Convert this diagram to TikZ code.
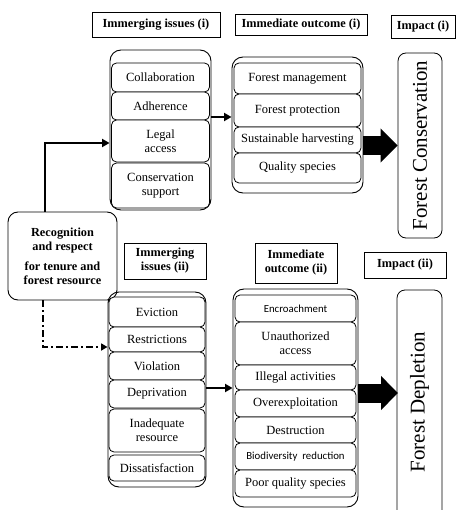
\documentclass[tikz,border=0pt]{standalone}
\usepackage{fontspec}
\setmainfont{Liberation Serif}[BoldFont={Liberation Serif Bold}]
\newfontfamily\calib{Carlito}
\usetikzlibrary{arrows.meta}
\begin{document}
\begin{tikzpicture}[x=1pt,y=-1pt,
 base/.style={font=\fontsize{12.5}{14}\selectfont, align=center, inner sep=0pt},
 hdr/.style={base, draw, line width=0.8pt, font=\fontsize{12.3}{14}\selectfont\bfseries},
 outer/.style={draw, line width=0.9pt, rounded corners=11pt, inner sep=0pt},
 row/.style={base, draw, line width=0.8pt, rounded corners=5pt, fill=white},
 rowA/.style={row, minimum width=98pt},
 rowB/.style={row, minimum width=127pt},
 rowC/.style={row, minimum width=96pt},
 rowD/.style={row, minimum width=121pt},
 sans/.style={font=\calib\fontsize{10.8}{12}\selectfont},
 conn/.style={line width=2.2pt, -{Triangle[length=7.5pt,width=8pt]}},
 big/.style={line width=19pt, -{Triangle[length=17pt,width=33pt]}},
 impact/.style={draw, line width=0.8pt, rounded corners=8pt, font=\fontsize{21}{22}\selectfont, inner sep=0pt}
]
\useasboundingbox (0,0) rectangle (459,510);

% headers
\node[hdr, minimum width=128pt, minimum height=25pt] (h1) at (156,24.5) {Immerging issues (i)};
\node[hdr, minimum width=132pt, minimum height=21pt] (h2) at (301,24.5) {Immediate outcome (i)};
\node[hdr, minimum width=64pt, minimum height=23pt] (h3) at (423,26.5) {Impact (i)};
\node[hdr, minimum width=82pt, minimum height=36pt] (h4) at (165,261) {Immerging\\issues (ii)};
\node[hdr, minimum width=82pt, minimum height=40pt] (h5) at (296,263) {Immediate\\outcome (ii)};
\node[hdr, minimum width=82pt, minimum height=26pt] (h6) at (405,265) {Impact (ii)};

% issues (i)
\node[outer, minimum width=101pt, minimum height=160pt] (I1) at (160.5,130) {};
\node[rowA, minimum height=29pt] (collab) at (160.5,77.5) {Collaboration};
\node[rowA, minimum height=28pt] (adher) at (160.5,106) {Adherence};
\node[rowA, minimum height=42pt] (legal) at (160.5,141) {Legal\\access};
\node[rowA, minimum height=45pt] (cons) at (160.5,185.5) {Conservation\\support};

% outcome (i)
\node[outer, minimum width=131pt, minimum height=136pt] (O1) at (297.5,125) {};
\node[rowB, minimum height=31pt] (fm) at (297.5,78.5) {Forest management};
\node[rowB, minimum height=33pt] (fp) at (297.5,110.5) {Forest protection};
\node[rowB, minimum height=26pt] (sh) at (297.5,140) {Sustainable harvesting};
\node[rowB, minimum height=30pt] (qs) at (297.5,168) {Quality species};

% impact (i)
\node[impact, rotate=90, minimum width=185pt, minimum height=44pt] (fc) at (420,145.5) {Forest Conservation};

% recognition
\node[base, draw, line width=0.9pt, rounded corners=10pt, minimum width=109pt, minimum height=88pt, font=\fontsize{12.3}{14}\selectfont\bfseries] (rec) at (62.5,256) {Recognition\\and respect\\[6pt]for tenure and\\forest resource};

% issues (ii)
\node[outer, minimum width=98pt, minimum height=195pt] (I2) at (157,389.5) {};
\node[rowC, minimum height=30pt] (ev) at (157,312) {Eviction};
\node[rowC, minimum height=25pt] (re) at (157,339.5) {Restrictions};
\node[rowC, minimum height=28pt] (vi) at (157,366) {Violation};
\node[rowC, minimum height=28pt] (de) at (157,394) {Deprivation};
\node[rowC, minimum height=43pt] (ia) at (157,430.5) {Inadequate\\resource};
\node[rowC, minimum height=26pt] (di) at (157,468) {Dissatisfaction};

% outcome (ii)
\node[outer, minimum width=125pt, minimum height=218pt] (O2) at (295.5,398) {};
\node[rowD, sans, minimum height=27pt] (en) at (295.5,308.5) {Encroachment};
\node[rowD, minimum height=43pt] (ua) at (295.5,343.5) {Unauthorized\\access};
\node[rowD, minimum height=25pt] (il) at (295.5,377.5) {Illegal activities};
\node[rowD, minimum height=27pt] (ov) at (295.5,403.5) {Overexploitation};
\node[rowD, minimum height=26pt] (ds) at (295.5,430) {Destruction};
\node[rowD, sans, minimum height=27pt] (bd) at (295.5,456.5) {Biodiversity\ \ reduction};
\node[rowD, minimum height=27pt] (pq) at (295.5,483.5) {Poor quality species};

% impact (ii) box, open at the bottom edge
\draw[line width=0.8pt, rounded corners=8pt] (397,512) -- (397,290) -- (442,290) -- (442,512);
\node[font=\fontsize{21}{22}\selectfont, rotate=90, inner sep=0pt] (fd) at (419.5,402) {Forest Depletion};
\coordinate (fdin) at (398,393);

% connectors
\draw[conn] ([xshift=-17.5pt]rec.north) |- (I1.west |- 0,143);
\draw[line width=2.2pt, dash pattern=on 7pt off 3pt on 2pt off 3pt, -{Triangle[length=6.5pt,width=7pt]}] ([xshift=-19.5pt]rec.south) |- (I2.west |- 0,347);
\draw[conn] (I1.east |- 0,117) -- (O1.west |- 0,117);
\draw[conn] (I2.east |- 0,388) -- (O2.west |- 0,388);
\draw[big] (O1.east |- fc.north) -- (fc.north);
\draw[big] (O2.east |- fdin) -- (fdin);
\end{tikzpicture}
\end{document}
